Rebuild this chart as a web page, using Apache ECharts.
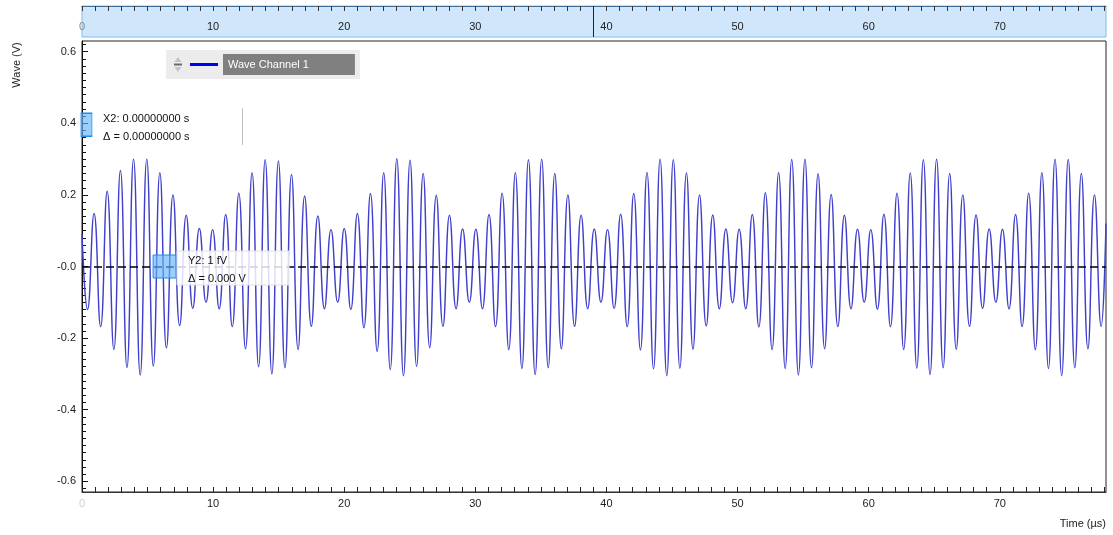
<!DOCTYPE html>
<html>
<head>
<meta charset="utf-8">
<script src="https://cdn.jsdelivr.net/npm/echarts@6/dist/echarts.min.js"></script>
<style>html,body{margin:0;padding:0;background:#fff;}#c{width:1113px;height:535px;}</style>
</head>
<body>
<div id="c"></div>
<script>
// ---- data (time in µs, wave in V) ----
const startPoint = [0, 0.09];
const endPoint = [78.1, 0.12];
const troughTimes = [0.42,1.42,2.43,3.43,4.44,5.44,6.44,7.45,8.45,9.46,10.46,11.46,12.47,13.47,14.48,15.48,16.48,17.49,18.49,19.50,20.50,21.50,22.51,23.51,24.52,25.52,26.52,27.53,28.53,29.54,30.54,31.54,32.55,33.55,34.56,35.56,36.56,37.57,38.57,39.58,40.58,41.58,42.59,43.59,44.60,45.60,46.60,47.61,48.61,49.62,50.62,51.62,52.63,53.63,54.64,55.64,56.64,57.65,58.65,59.66,60.66,61.66,62.67,63.67,64.68,65.68,66.68,67.69,68.69,69.70,70.70,71.70,72.71,73.71,74.72,75.72,76.72,77.73];
const troughValues = [
  -0.120,-0.168,-0.232,-0.282,-0.303,-0.278,-0.228,-0.165,-0.117,-0.100,
  -0.118,-0.168,-0.230,-0.280,-0.300,-0.283,-0.232,-0.167,-0.118,-0.100,
  -0.120,-0.171,-0.237,-0.288,-0.305,-0.279,-0.227,-0.167,-0.118,-0.100,
  -0.118,-0.168,-0.232,-0.285,-0.302,-0.283,-0.230,-0.167,-0.118,-0.100,
  -0.117,-0.168,-0.233,-0.286,-0.305,-0.284,-0.231,-0.166,-0.118,-0.101,
  -0.118,-0.169,-0.232,-0.285,-0.303,-0.283,-0.230,-0.168,-0.118,-0.100,
  -0.119,-0.168,-0.232,-0.284,-0.302,-0.283,-0.231,-0.167,-0.117,-0.100,
  -0.118,-0.168,-0.232,-0.285,-0.305,-0.283,-0.230,-0.167];
const peakTimes = [0.92,1.92,2.93,3.93,4.94,5.94,6.94,7.95,8.95,9.96,10.96,11.96,12.97,13.97,14.98,15.98,16.98,17.99,18.99,20.00,21.00,22.00,23.01,24.01,25.02,26.02,27.02,28.03,29.03,30.04,31.04,32.04,33.05,34.05,35.06,36.06,37.06,38.07,39.07,40.08,41.08,42.08,43.09,44.09,45.10,46.10,47.10,48.11,49.11,50.12,51.12,52.12,53.13,54.13,55.14,56.14,57.14,58.15,59.15,60.16,61.16,62.16,63.17,64.17,65.18,66.18,67.18,68.19,69.19,70.20,71.20,72.20,73.21,74.21,75.22,76.22,77.22];
const peakValues = [
  0.148,0.210,0.268,0.300,0.300,0.262,0.200,0.143,0.106,0.103,
  0.145,0.205,0.262,0.298,0.295,0.257,0.197,0.141,0.103,0.106,
  0.148,0.204,0.262,0.301,0.297,0.260,0.199,0.143,0.105,0.104,
  0.145,0.205,0.262,0.298,0.300,0.260,0.200,0.143,0.105,0.103,
  0.146,0.204,0.263,0.300,0.298,0.261,0.200,0.144,0.105,0.104,
  0.145,0.206,0.262,0.299,0.300,0.259,0.201,0.143,0.104,0.103,
  0.146,0.205,0.261,0.298,0.300,0.260,0.200,0.144,0.105,0.104,
  0.145,0.205,0.262,0.300,0.299,0.260,0.200];
const xTickLabels = ['0','10','20','30','40','50','60','70'];
const yTickLabels = ['-0.6','-0.4','-0.2','-0.0','0.2','0.4','0.6'];
const xMax = 78.1;
const yMin = -0.63, yMax = 0.63;
const overviewMarker = 39.0;
const y2Cursor = [6.3, 0];
const x2Cursor = [0.34, 0.396];

// ---- build series from the arrays ----
const pts = [startPoint];
troughTimes.forEach((t, i) => pts.push([t, troughValues[i]]));
peakTimes.forEach((t, i) => pts.push([t, peakValues[i]]));
pts.push(endPoint);
pts.sort((a, b) => a[0] - b[0]);

const xLabelVals = xTickLabels.map(Number);
const yLabelVals = yTickLabels.map(Number);
const xMinorTicks = [];
for (let k = 0; k <= Math.floor(xMax); k++) xMinorTicks.push(k);
const yMinorTicks = [];
for (let k = -31; k <= 31; k++) yMinorTicks.push(k * 0.02);

const FONT = '"Liberation Sans", Arial, sans-serif';
const chart = echarts.init(document.getElementById('c'), null, {renderer: 'canvas'});

chart.setOption({
  animation: false,
  backgroundColor: '#ffffff',
  textStyle: {fontFamily: FONT},
  grid: [
    {left: 82, right: 7, top: 41, bottom: 43, show: true, borderColor: '#222', borderWidth: 1, backgroundColor: 'transparent'},
    {left: 82, right: 7, top: 6, height: 31, show: true, backgroundColor: '#cfe6fb', borderColor: '#86bde9', borderWidth: 1}
  ],
  legend: {
    left: 166, top: 50,
    backgroundColor: '#ececec',
    padding: [4, 5, 4, 24],
    itemWidth: 28, itemHeight: 3,
    icon: 'rect',
    data: [{name: 'Wave Channel 1', itemStyle: {color: '#0000f0'}}],
    textStyle: {fontFamily: FONT, fontSize: 11, color: '#ffffff', backgroundColor: '#808080', padding: [5, 46, 5, 5]}
  },
  xAxis: [
    {
      type: 'value', gridIndex: 0, min: 0, max: xMax, position: 'bottom',
      axisLine: {show: true, onZero: false, lineStyle: {color: '#333', width: 1}},
      axisTick: {show: true, inside: true, length: 5, customValues: xMinorTicks, lineStyle: {color: '#222'}},
      axisLabel: {
        customValues: xLabelVals, margin: 6, fontSize: 11, color: '#222', fontFamily: FONT,
        formatter: v => { const l = xTickLabels[xLabelVals.indexOf(v)] ?? String(v); return v === 0 ? '{f|' + l + '}' : l; },
        rich: {f: {color: '#d0d0d0', fontSize: 11, fontFamily: FONT}}
      },
      splitLine: {show: false}
    },
    {
      type: 'value', gridIndex: 1, min: 0, max: xMax, position: 'top',
      axisLine: {show: true, onZero: false, lineStyle: {color: '#3d6f9c', width: 1}},
      axisTick: {show: true, inside: true, length: 5, customValues: xMinorTicks, lineStyle: {color: '#333'}},
      axisLabel: {
        inside: true, customValues: xLabelVals, margin: 15, fontSize: 11, color: '#222', fontFamily: FONT,
        formatter: v => { const l = xTickLabels[xLabelVals.indexOf(v)] ?? String(v); return v === 0 ? '{f|' + l + '}' : l; },
        rich: {f: {color: '#888', fontSize: 11, fontFamily: FONT}}
      },
      splitLine: {show: false}
    }
  ],
  yAxis: [
    {
      type: 'value', gridIndex: 0, min: yMin, max: yMax, position: 'left',
      axisLine: {show: true, onZero: false, lineStyle: {color: '#111', width: 1}},
      axisTick: {show: true, inside: true, length: 6, customValues: yLabelVals, lineStyle: {color: '#111'}},
      axisLabel: {
        customValues: yLabelVals, margin: 6, fontSize: 11, color: '#222', fontFamily: FONT,
        formatter: v => { const i = yLabelVals.findIndex(u => Math.abs(u - v) < 1e-9); return i >= 0 ? yTickLabels[i] : ''; }
      },
      splitLine: {show: false}
    },
    {
      type: 'value', gridIndex: 0, min: yMin, max: yMax, position: 'left',
      axisLine: {show: false, onZero: false},
      axisTick: {show: true, inside: true, length: 4, customValues: yMinorTicks, lineStyle: {color: '#111'}},
      axisLabel: {show: false},
      splitLine: {show: false}
    },
    {
      type: 'value', gridIndex: 1, min: 0, max: 1, show: false
    }
  ],
  graphic: [
    // legend arrows glyph
    {type: 'polygon', z: 200, shape: {points: [[178, 57], [174.5, 62], [181.5, 62]]}, style: {fill: '#c4c4c4'}},
    {type: 'rect', z: 200, shape: {x: 174, y: 63.5, width: 8, height: 2}, style: {fill: '#6a6a6a'}},
    {type: 'polygon', z: 200, shape: {points: [[174.5, 67], [181.5, 67], [178, 72]]}, style: {fill: '#c4c4c4'}},
    // X2 cursor label
    {type: 'rect', z: 100, shape: {x: 93, y: 108, width: 149, height: 37}, style: {fill: 'rgba(255,255,255,0.85)'}},
    {type: 'line', z: 101, shape: {x1: 242.5, y1: 108, x2: 242.5, y2: 145}, style: {stroke: '#c0c0c0', lineWidth: 1}},
    {type: 'text', z: 102, left: 103, top: 113, style: {text: 'X2: 0.00000000 s', font: '11px ' + FONT, fill: '#111'}},
    {type: 'text', z: 102, left: 103, top: 131, style: {text: 'Δ = 0.00000000 s', font: '11px ' + FONT, fill: '#111'}},
    // Y2 cursor label
    {type: 'rect', z: 100, shape: {x: 177, y: 251, width: 112, height: 34}, style: {fill: 'rgba(255,255,255,0.82)', stroke: '#e2e2e2', lineWidth: 1}},
    {type: 'text', z: 102, left: 188, top: 255, style: {text: 'Y2: 1 fV', font: '11px ' + FONT, fill: '#111'}},
    {type: 'text', z: 102, left: 188, top: 273, style: {text: 'Δ = 0.000 V', font: '11px ' + FONT, fill: '#111'}},
    // axis titles
    {type: 'text', z: 102, x: 11, y: 65, rotation: Math.PI / 2, style: {text: 'Wave (V)', font: '11px ' + FONT, fill: '#222', align: 'center', verticalAlign: 'top'}},
    {type: 'text', z: 102, right: 7, top: 518, style: {text: 'Time (µs)', font: '11px ' + FONT, fill: '#222'}}
  ],
  series: [
    {
      name: 'Wave Channel 1',
      type: 'line', xAxisIndex: 0, yAxisIndex: 0,
      data: pts,
      showSymbol: false, symbol: 'none',
      smooth: 0.5,
      clip: true,
      lineStyle: {color: '#4040cc', width: 1.45},
      itemStyle: {color: '#0000f0'},
      markLine: {
        silent: true, symbol: 'none', animation: false,
        label: {show: false},
        lineStyle: {color: '#000', type: [8, 4], width: 1.5},
        data: [{yAxis: y2Cursor[1]}]
      },
      markPoint: {
        silent: true, animation: false,
        label: {show: false},
        data: [
          {coord: y2Cursor, symbol: 'rect', symbolSize: [23, 23], itemStyle: {color: 'rgba(100,180,250,0.65)', borderColor: '#1f8ee8', borderWidth: 1}},
          {coord: x2Cursor, symbol: 'rect', symbolSize: [11, 23], itemStyle: {color: 'rgba(100,180,250,0.65)', borderColor: '#1f8ee8', borderWidth: 1}}
        ]
      }
    },
    {
      name: 'overview',
      type: 'line', xAxisIndex: 1, yAxisIndex: 2,
      data: [],
      markLine: {
        silent: true, symbol: 'none', animation: false,
        label: {show: false},
        lineStyle: {color: '#222', type: 'solid', width: 1},
        data: [{xAxis: overviewMarker}]
      }
    }
  ]
});
</script>
</body>
</html>
